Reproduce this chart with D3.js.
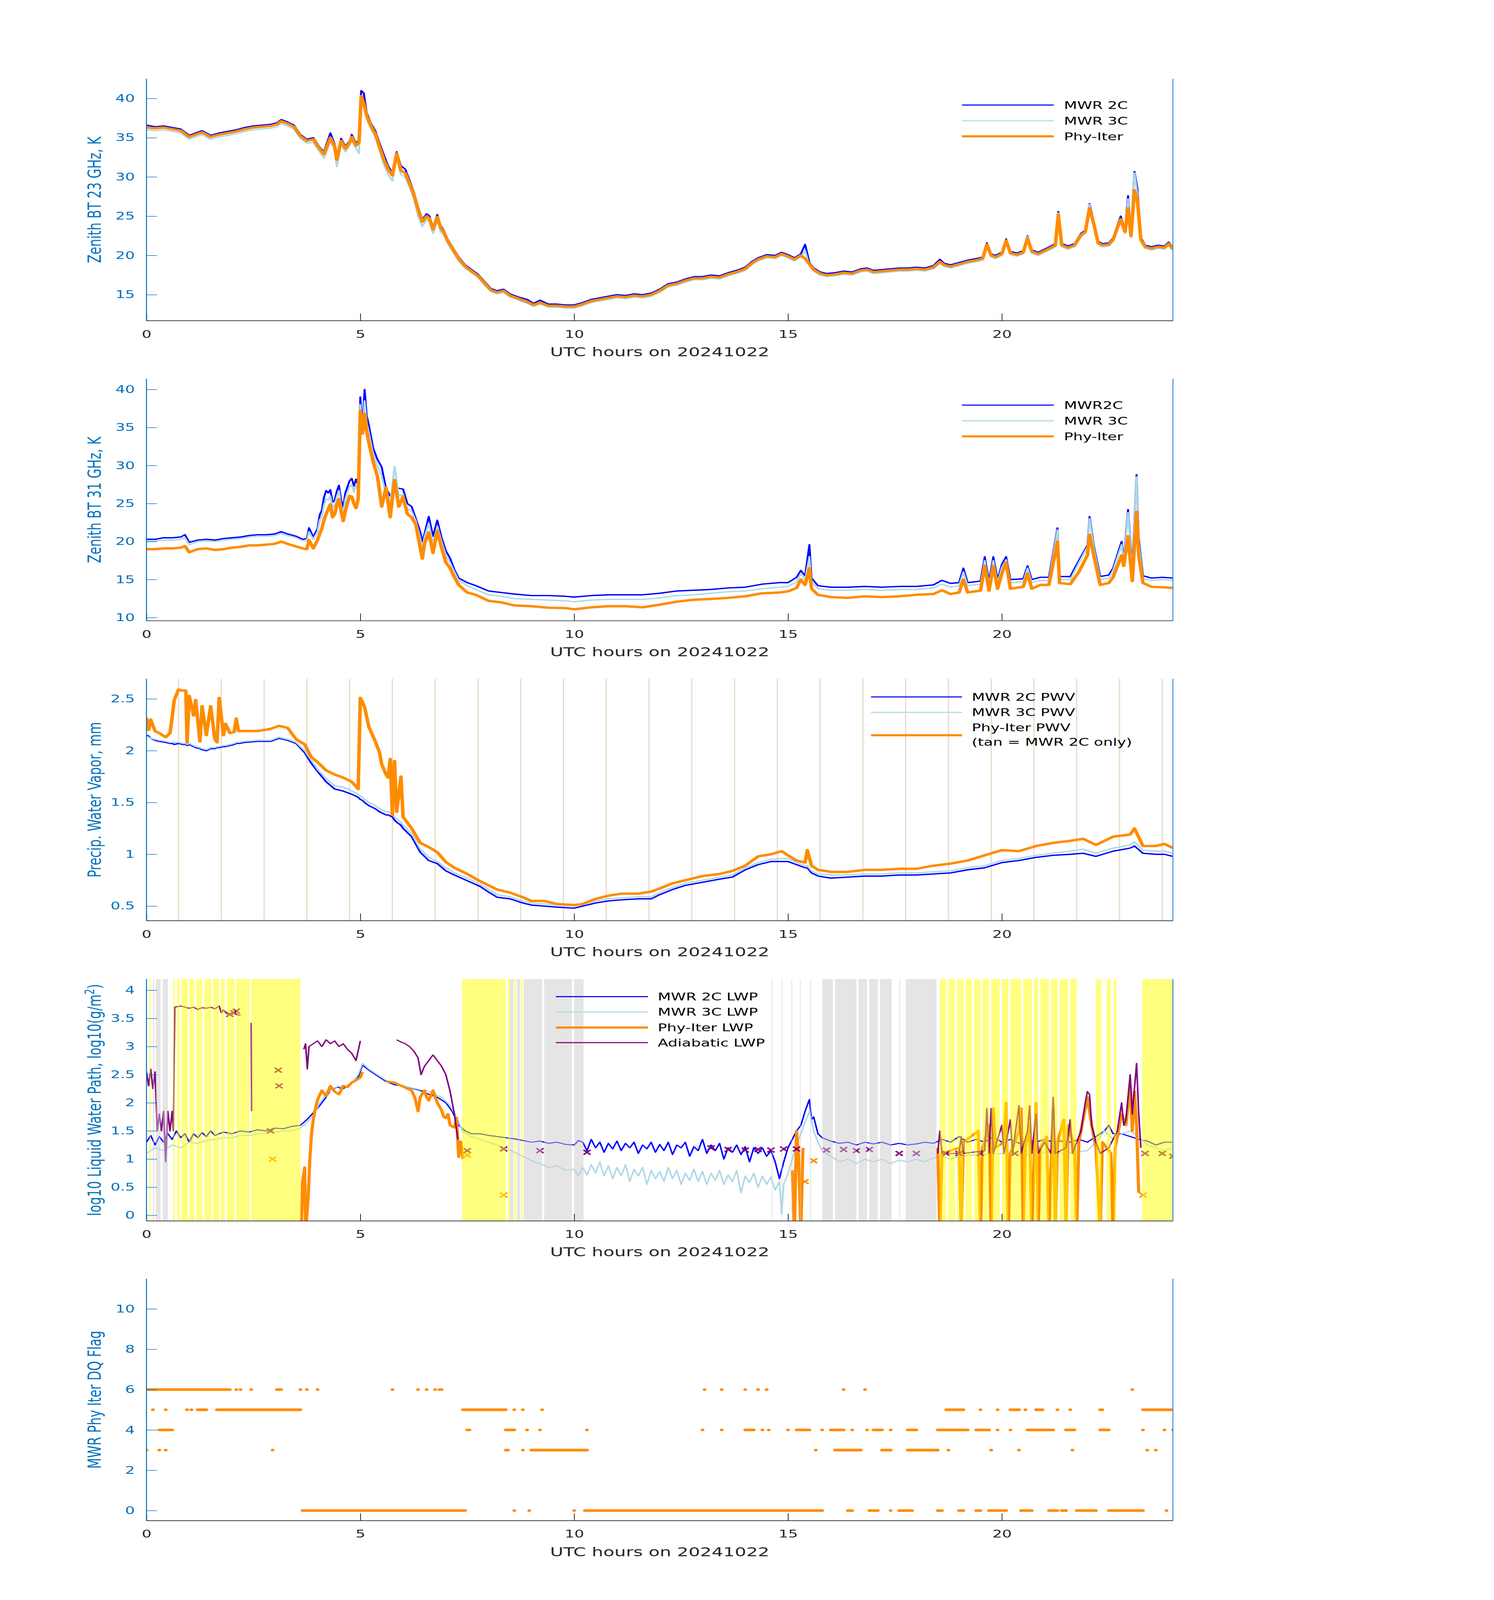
<!DOCTYPE html>
<html><head><meta charset="utf-8">
<script src="https://cdn.jsdelivr.net/npm/d3@7"></script>
<style>html,body{margin:0;padding:0;background:#fff;overflow:hidden}svg{display:block}</style>
</head><body><svg id="chart" width="3825" height="6000"></svg>
<script>
// ---------------- DATA ----------------
// Panel 1: Zenith BT 23 GHz
const hours1 = [0,0.2,0.4,0.6,0.8,1.0,1.15,1.3,1.5,1.7,
1.9,2.1,2.3,2.5,2.7,2.9,3.05,3.15,3.3,3.45,
3.6,3.75,3.9,4.05,4.15,4.3,4.4,4.45,4.55,4.65,
4.75,4.8,4.9,4.97,5.02,5.08,5.15,5.25,5.35,5.45,
5.55,5.65,5.75,5.85,5.95,6.05,6.15,6.25,6.35,6.45,
6.55,6.62,6.7,6.8,6.88,6.95,7.05,7.15,7.3,7.45,
7.6,7.75,7.9,8.05,8.2,8.35,8.5,8.7,8.9,9.05,
9.2,9.4,9.6,9.8,10.0,10.2,10.4,10.6,10.8,11.0,
11.2,11.4,11.6,11.8,12.0,12.2,12.4,12.6,12.8,13.0,
13.2,13.4,13.6,13.8,14.0,14.15,14.3,14.5,14.7,14.85,
15.0,15.15,15.3,15.4,15.5,15.6,15.75,15.9,16.1,16.3,
16.5,16.7,16.85,17.0,17.2,17.4,17.6,17.8,18.0,18.2,
18.4,18.55,18.65,18.8,19.0,19.2,19.4,19.55,19.65,19.75,
19.85,20.0,20.1,20.2,20.35,20.5,20.6,20.7,20.85,21.0,
21.15,21.25,21.32,21.4,21.55,21.7,21.85,21.95,22.05,22.15,
22.25,22.35,22.5,22.6,22.7,22.78,22.88,22.95,23.02,23.1,
23.17,23.25,23.35,23.5,23.65,23.8,23.9,24.0];
const bt23_2C = [36.6,36.4,36.5,36.3,36.1,35.3,35.6,35.9,35.3,35.6,
35.8,36.0,36.3,36.5,36.6,36.7,36.9,37.3,37.0,36.6,
35.4,34.8,35.0,33.8,33.2,35.6,34.2,32.6,34.9,33.9,
34.6,35.4,34.3,34.7,41.0,40.7,38.2,36.8,35.9,34.3,
32.8,31.4,30.5,33.2,31.4,31.0,29.6,28.1,26.2,24.6,
25.3,25.0,23.6,25.2,23.8,23.2,22.0,21.1,19.8,18.8,
18.2,17.6,16.7,15.8,15.5,15.7,15.1,14.7,14.4,13.9,
14.3,13.8,13.8,13.7,13.7,14.0,14.4,14.6,14.8,15.0,
14.9,15.1,15.0,15.2,15.7,16.4,16.6,17.0,17.3,17.3,
17.5,17.4,17.8,18.1,18.5,19.2,19.7,20.1,20.0,20.4,
20.1,19.7,20.2,21.4,19.1,18.4,17.9,17.7,17.8,18.0,
17.9,18.3,18.4,18.1,18.2,18.3,18.4,18.4,18.5,18.4,
18.7,19.5,19.0,18.8,19.1,19.4,19.6,19.8,21.6,20.2,
20.0,20.4,22.1,20.5,20.3,20.6,22.5,20.7,20.4,20.8,
21.2,21.5,25.6,21.5,21.2,21.5,22.8,23.2,26.6,24.3,
21.8,21.5,21.6,22.2,23.8,25.0,23.3,27.6,22.8,30.7,
28.5,22.3,21.3,21.1,21.3,21.2,21.7,21.0];
const bt23_3C = [36.0,35.9,36.0,35.8,35.6,34.8,35.1,35.4,34.8,35.1,
35.3,35.5,35.8,36.0,36.1,36.2,36.4,36.8,36.5,36.1,
34.9,34.3,34.4,33.2,32.4,34.6,33.4,31.3,34.2,33.2,
34.0,34.7,33.6,33.0,39.8,39.0,37.4,36.1,35.1,33.4,
31.6,30.3,29.5,32.5,30.3,30.0,28.7,27.3,25.0,23.7,
24.6,24.2,22.8,24.5,23.0,22.6,21.5,20.6,19.3,18.4,
17.8,17.2,16.3,15.4,15.1,15.3,14.7,14.3,13.9,13.5,
13.8,13.4,13.4,13.3,13.3,13.6,14.0,14.2,14.4,14.6,
14.5,14.7,14.6,14.8,15.3,16.0,16.2,16.6,16.9,16.9,
17.1,17.0,17.4,17.7,18.1,18.8,19.3,19.7,19.6,20.0,
19.7,19.3,19.8,20.6,18.7,18.0,17.5,17.3,17.4,17.6,
17.5,17.9,18.0,17.7,17.8,17.9,18.0,18.0,18.1,18.0,
18.3,19.0,18.6,18.4,18.7,19.0,19.2,19.4,21.3,19.8,
19.6,20.0,21.8,20.1,19.9,20.2,22.4,20.3,20.0,20.4,
20.8,21.1,25.4,21.1,20.8,21.1,22.4,22.8,26.5,23.8,
21.4,21.1,21.2,21.8,23.3,24.5,22.8,27.2,22.3,30.5,
27.8,21.8,20.9,20.7,20.9,20.8,21.3,20.6];
const bt23_phy = [36.3,36.2,36.3,36.1,35.9,35.1,35.4,35.7,35.1,35.4,
35.6,35.8,36.1,36.3,36.4,36.5,36.7,37.1,36.8,36.4,
35.2,34.6,34.8,33.6,32.9,35.0,33.9,32.2,34.6,33.6,
34.4,35.1,34.0,34.4,40.3,39.4,37.8,36.5,35.5,33.8,
32.2,31.0,30.2,33.0,30.8,30.5,29.2,27.8,25.9,24.3,
25.0,24.7,23.3,24.9,23.5,23.0,21.8,20.9,19.6,18.6,
18.0,17.4,16.5,15.6,15.3,15.5,14.9,14.5,14.1,13.7,
14.0,13.6,13.6,13.5,13.5,13.8,14.2,14.4,14.6,14.8,
14.7,14.9,14.8,15.0,15.5,16.2,16.4,16.8,17.1,17.1,
17.3,17.2,17.6,17.9,18.3,19.0,19.5,19.9,19.8,20.2,
19.9,19.5,20.0,19.6,18.9,18.2,17.7,17.5,17.6,17.8,
17.7,18.1,18.2,17.9,18.0,18.1,18.2,18.2,18.3,18.2,
18.5,19.2,18.8,18.6,18.9,19.2,19.4,19.6,21.4,20.0,
19.8,20.2,21.9,20.3,20.1,20.4,22.2,20.5,20.2,20.6,
21.0,21.3,25.2,21.3,21.0,21.3,22.6,23.0,26.0,24.0,
21.6,21.3,21.4,22.0,23.5,24.6,23.0,26.0,22.5,28.3,
27.0,22.0,21.1,20.9,21.1,21.0,21.5,20.8];

// Panel 2: Zenith BT 31 GHz
const hours2 = [0,0.2,0.4,0.6,0.8,0.9,1.0,1.2,1.4,1.6,
1.8,2.0,2.2,2.4,2.6,2.8,3.0,3.15,3.3,3.5,
3.65,3.75,3.8,3.9,4.0,4.05,4.1,4.15,4.2,4.25,
4.3,4.35,4.4,4.45,4.5,4.55,4.6,4.65,4.7,4.75,
4.8,4.85,4.9,4.95,5.0,5.05,5.1,5.15,5.2,5.3,
5.4,5.5,5.6,5.7,5.8,5.9,6.0,6.1,6.2,6.3,
6.4,6.45,6.5,6.6,6.7,6.8,6.9,7.0,7.1,7.2,
7.3,7.5,7.7,8.0,8.3,8.6,9.0,9.4,9.8,10.0,
10.4,10.8,11.2,11.6,12.0,12.4,12.8,13.2,13.6,14.0,
14.4,14.8,15.0,15.2,15.3,15.4,15.5,15.55,15.7,16.0,
16.4,16.8,17.2,17.6,18.0,18.4,18.6,18.8,19.0,19.1,
19.2,19.5,19.6,19.7,19.8,19.9,20.0,20.1,20.2,20.5,
20.6,20.7,20.9,21.1,21.3,21.35,21.6,21.8,22.0,22.05,
22.15,22.3,22.5,22.6,22.8,22.85,22.95,23.05,23.15,23.2,
23.3,23.5,23.75,24.0];
const bt31_2C = [20.3,20.3,20.5,20.5,20.6,20.9,19.9,20.2,20.3,20.2,
20.4,20.5,20.6,20.8,20.9,20.9,21.0,21.3,21.0,20.7,
20.3,20.4,21.8,20.6,21.7,23.5,24.1,25.8,26.7,26.4,
26.8,25.2,25.4,26.6,27.4,25.5,24.5,26.4,27.2,28.0,
28.3,27.3,28.2,27.4,39.0,35.0,40.0,36.5,35.3,32.3,
30.8,29.8,27.0,26.0,26.8,27.0,26.9,25.0,24.6,23.0,
21.3,20.0,21.0,23.3,20.7,22.8,20.5,18.8,17.8,16.3,
15.2,14.6,14.2,13.5,13.3,13.1,12.9,12.9,12.8,12.7,
12.9,13.0,13.0,13.0,13.2,13.5,13.6,13.7,13.9,14.0,
14.4,14.6,14.6,15.3,16.2,15.5,19.6,15.2,14.2,14.0,
14.0,14.1,14.0,14.1,14.1,14.3,14.9,14.5,14.6,16.5,
14.6,14.8,18.0,14.8,18.0,15.0,17.0,18.0,15.0,15.1,
16.8,15.0,15.3,15.3,21.8,15.4,15.4,17.5,19.5,23.3,
19.5,15.4,15.6,16.5,20.0,17.5,24.2,16.5,28.8,20.5,
15.5,15.2,15.3,15.2];
const bt31_3C = [20.1,20.1,20.2,20.2,20.3,20.5,19.6,20.0,20.1,20.0,
20.2,20.3,20.4,20.6,20.7,20.7,20.8,21.0,20.8,20.5,
20.1,20.1,21.3,20.3,21.3,22.8,23.3,24.8,25.6,25.5,
26.0,24.4,24.8,25.9,26.7,24.8,23.8,25.6,26.5,27.2,
27.5,26.5,27.4,26.7,38.0,34.7,38.5,35.6,34.3,31.5,
30.0,28.6,26.2,25.0,29.9,26.0,26.2,24.3,24.0,22.7,
20.5,19.0,20.6,22.4,19.7,22.0,20.0,18.2,17.2,16.0,
14.9,14.2,13.7,13.0,12.8,12.5,12.4,12.3,12.2,12.1,
12.3,12.4,12.4,12.4,12.6,12.9,13.0,13.2,13.4,13.5,
13.8,14.0,14.1,14.7,15.8,15.0,18.0,14.7,13.8,13.6,
13.6,13.7,13.6,13.7,13.7,13.9,14.4,14.0,14.2,16.0,
14.2,14.4,17.5,14.4,17.5,14.6,16.6,17.6,14.6,14.7,
16.5,14.6,14.9,14.9,21.5,15.0,15.0,17.2,19.3,23.0,
19.2,15.0,15.2,16.2,19.6,17.2,23.8,16.0,28.5,20.0,
15.1,14.9,15.0,14.9];
const bt31_phy = [19.0,19.0,19.1,19.1,19.2,19.4,18.6,19.0,19.1,18.9,
19.0,19.2,19.3,19.5,19.5,19.6,19.7,20.0,19.7,19.35,
19.1,19.0,20.2,19.1,20.2,21.0,21.7,22.8,23.6,24.3,
24.9,23.2,23.6,24.8,25.6,24.0,22.7,24.0,25.1,26.0,
25.9,25.0,24.4,25.6,37.2,34.2,36.8,34.5,33.0,30.5,
28.6,24.6,27.1,23.2,28.1,24.6,25.9,23.6,23.2,22.2,
19.2,17.75,19.7,21.2,18.5,21.4,19.2,17.25,16.5,15.3,
14.3,13.3,13.0,12.2,12.0,11.6,11.5,11.3,11.25,11.1,
11.35,11.5,11.5,11.35,11.7,12.1,12.35,12.45,12.6,12.8,
13.2,13.3,13.45,13.9,15.0,14.3,16.5,13.8,13.0,12.7,
12.6,12.8,12.7,12.8,13.0,13.1,13.6,13.1,13.3,15.0,
13.3,13.55,16.8,13.55,16.8,13.8,15.8,17.25,13.8,14.05,
15.8,13.8,14.3,14.3,20.0,14.55,14.4,16.0,18.2,20.9,
18.2,14.3,14.55,15.3,18.2,16.8,20.7,14.8,23.9,18.2,
14.55,14.05,14.0,13.9];

// Panel 3: PWV
const hours3 = [0,0.05,0.1,0.2,0.3,0.45,0.55,0.6,0.65,0.75,
0.85,0.92,0.95,1.0,1.1,1.15,1.25,1.3,1.4,1.5,
1.6,1.65,1.7,1.8,1.85,1.95,2.05,2.1,2.15,2.3,
2.6,2.9,3.1,3.3,3.5,3.7,3.85,4.0,4.2,4.4,
4.6,4.8,4.95,5.0,5.05,5.1,5.2,5.35,5.45,5.5,
5.6,5.65,5.7,5.75,5.8,5.85,5.95,6.0,6.2,6.4,
6.6,6.8,7.0,7.2,7.5,7.8,8.0,8.2,8.5,8.8,
9.0,9.3,9.6,10.0,10.2,10.5,10.8,11.1,11.5,11.8,
12.0,12.3,12.6,13.0,13.4,13.7,14.0,14.3,14.6,14.85,
15.0,15.2,15.4,15.45,15.55,15.7,16.0,16.4,16.8,17.2,
17.6,18.0,18.4,18.8,19.2,19.6,20.0,20.4,20.8,21.2,
21.6,21.9,22.2,22.6,23.0,23.1,23.3,23.6,23.8,24.0];
const pwv_2C = [2.15,2.14,2.12,2.10,2.09,2.08,2.07,2.07,2.06,2.07,
2.06,2.06,2.05,2.06,2.04,2.03,2.02,2.01,2.00,2.02,
2.02,2.03,2.03,2.04,2.04,2.05,2.06,2.07,2.07,2.08,
2.09,2.09,2.12,2.10,2.07,1.98,1.88,1.80,1.70,1.63,
1.61,1.58,1.55,1.53,1.52,1.50,1.47,1.44,1.41,1.40,
1.38,1.38,1.37,1.36,1.33,1.31,1.28,1.25,1.17,1.02,
0.94,0.91,0.84,0.80,0.745,0.69,0.635,0.585,0.57,0.53,
0.51,0.50,0.49,0.48,0.50,0.53,0.55,0.56,0.57,0.57,
0.61,0.66,0.70,0.73,0.76,0.78,0.85,0.90,0.93,0.93,
0.93,0.90,0.87,0.87,0.82,0.79,0.77,0.78,0.79,0.79,
0.80,0.80,0.81,0.82,0.85,0.87,0.92,0.94,0.97,0.99,
1.00,1.01,0.98,1.03,1.06,1.08,1.01,1.00,1.00,0.98];
const pwv_3C = [2.14,2.13,2.12,2.11,2.10,2.09,2.08,2.08,2.08,2.08,
2.07,2.07,2.06,2.07,2.05,2.04,2.03,2.02,2.01,2.03,
2.03,2.04,2.04,2.05,2.05,2.06,2.07,2.08,2.08,2.09,
2.10,2.10,2.13,2.11,2.08,2.00,1.91,1.82,1.73,1.66,
1.65,1.61,1.58,1.56,1.55,1.53,1.50,1.47,1.44,1.43,
1.41,1.41,1.40,1.39,1.36,1.34,1.31,1.28,1.20,1.05,
0.97,0.93,0.87,0.82,0.77,0.71,0.66,0.61,0.59,0.55,
0.53,0.52,0.51,0.50,0.52,0.55,0.57,0.58,0.59,0.59,
0.63,0.68,0.72,0.75,0.78,0.80,0.87,0.92,0.95,0.96,
0.96,0.92,0.89,0.89,0.84,0.81,0.80,0.80,0.81,0.81,
0.82,0.82,0.83,0.84,0.87,0.89,0.94,0.96,0.99,1.01,
1.03,1.05,1.01,1.06,1.09,1.12,1.04,1.03,1.03,1.01];
const pwv_phy = [2.32,2.2,2.3,2.19,2.17,2.13,2.17,2.32,2.49,2.59,
2.58,2.58,2.08,2.53,2.34,2.49,2.09,2.43,2.15,2.43,
2.11,2.08,2.51,2.15,2.26,2.17,2.18,2.31,2.19,2.19,
2.19,2.21,2.24,2.22,2.11,2.06,1.94,1.89,1.81,1.77,
1.74,1.70,1.63,2.51,2.47,2.42,2.23,2.09,1.98,1.87,
1.77,1.74,1.92,1.38,1.90,1.41,1.75,1.36,1.25,1.11,
1.07,1.02,0.925,0.87,0.81,0.74,0.70,0.66,0.63,0.585,
0.55,0.55,0.52,0.51,0.52,0.57,0.60,0.62,0.62,0.64,
0.67,0.72,0.75,0.79,0.81,0.84,0.89,0.98,1.00,1.03,
0.99,0.94,0.92,1.04,0.89,0.85,0.83,0.83,0.85,0.85,
0.86,0.86,0.89,0.91,0.94,0.99,1.04,1.03,1.08,1.11,
1.13,1.15,1.09,1.17,1.19,1.25,1.08,1.08,1.10,1.06];
const tanHours = [0.75,1.75,2.75,3.75,4.75,5.75,6.75,7.75,8.75,9.75,10.75,11.75,
12.75,13.75,14.75,15.75,16.75,17.75,18.75,19.75,20.75,21.75,22.75,23.75];

// Panel 4: log10 LWP
const hoursLwp2C = [0,0.1,0.2,0.3,0.4,0.5,0.6,0.7,0.8,0.9,
1.0,1.1,1.2,1.3,1.4,1.5,1.6,1.8,2.0,2.2,
2.4,2.6,2.8,3.0,3.2,3.4,3.6,3.75,3.9,4.05,
4.2,4.3,4.45,4.6,4.8,4.95,5.05,5.2,5.4,5.6,
5.8,6.0,6.2,6.4,6.6,6.8,7.0,7.15,7.3,7.45,
7.6,7.8,8.0,8.2,8.4,8.6,8.8,9.0,9.2,9.4,
9.6,9.8,10.0,10.1,10.2,10.3,10.4,10.5,10.6,10.7,
10.8,10.9,11.0,11.1,11.2,11.3,11.4,11.5,11.6,11.7,
11.8,11.9,12.0,12.1,12.2,12.3,12.4,12.5,12.6,12.7,
12.8,12.9,13.0,13.1,13.2,13.3,13.4,13.5,13.6,13.7,
13.8,13.9,14.0,14.1,14.2,14.3,14.4,14.5,14.6,14.7,
14.8,14.9,15.0,15.1,15.2,15.3,15.4,15.5,15.55,15.6,
15.7,15.8,16.0,16.2,16.4,16.6,16.8,17.0,17.2,17.4,
17.6,17.8,18.0,18.2,18.4,18.6,18.8,19.0,19.2,19.4,
19.6,19.8,20.0,20.2,20.4,20.6,20.8,21.0,21.2,21.4,
21.6,21.8,22.0,22.2,22.4,22.5,22.6,22.8,23.0,23.2,
23.4,23.6,23.8,24.0];
const lwp_2C = [1.3,1.42,1.25,1.4,1.3,1.45,1.35,1.5,1.38,1.45,
1.3,1.45,1.38,1.47,1.4,1.5,1.42,1.48,1.45,1.5,
1.48,1.52,1.5,1.55,1.54,1.58,1.6,1.7,1.82,1.95,
2.1,2.22,2.28,2.25,2.36,2.45,2.67,2.58,2.48,2.38,
2.32,2.3,2.26,2.22,2.15,2.1,2.0,1.85,1.6,1.5,
1.45,1.45,1.42,1.4,1.38,1.36,1.33,1.3,1.32,1.28,
1.3,1.26,1.25,1.33,1.3,1.15,1.35,1.2,1.3,1.12,
1.28,1.18,1.32,1.15,1.28,1.2,1.3,1.1,1.25,1.18,
1.3,1.12,1.26,1.15,1.3,1.08,1.25,1.2,1.3,1.05,
1.22,1.15,1.35,1.1,1.25,1.15,1.28,1.0,1.2,1.12,
1.25,1.08,1.22,0.95,1.2,1.1,1.2,1.05,1.15,0.95,
0.65,0.95,1.2,1.35,1.5,1.6,1.85,2.06,1.7,1.75,
1.45,1.38,1.32,1.28,1.3,1.25,1.3,1.27,1.3,1.25,
1.28,1.25,1.27,1.3,1.28,1.35,1.3,1.4,1.3,1.35,
1.3,1.4,1.3,1.35,1.28,1.33,1.3,1.35,1.3,1.32,
1.3,1.35,1.3,1.4,1.5,1.6,1.45,1.45,1.4,1.35,
1.32,1.25,1.3,1.3];
const hoursLwp3C = [0,0.2,0.4,0.6,0.8,1.0,1.2,1.4,1.6,1.8,
2.0,2.2,2.4,2.6,2.8,3.0,3.2,3.4,3.6,3.75,
3.9,4.05,4.2,4.35,4.5,4.65,4.8,4.95,5.05,5.2,
5.4,5.6,5.8,6.0,6.3,6.6,6.9,7.1,7.25,7.4,
7.6,7.8,8.0,8.2,8.4,8.6,8.8,9.0,9.2,9.4,
9.6,9.8,10.0,10.1,10.2,10.3,10.4,10.5,10.6,10.7,
10.8,10.9,11.0,11.1,11.2,11.3,11.4,11.5,11.6,11.7,
11.8,11.9,12.0,12.1,12.2,12.3,12.4,12.5,12.6,12.7,
12.8,12.9,13.0,13.1,13.2,13.3,13.4,13.5,13.6,13.7,
13.8,13.9,14.0,14.1,14.2,14.3,14.4,14.5,14.6,14.7,
14.8,14.85,14.9,15.0,15.1,15.2,15.3,15.4,15.5,15.6,
15.7,15.8,16.0,16.2,16.4,16.6,16.8,17.0,17.2,17.4,
17.6,17.8,18.0,18.2,18.4,18.6,18.8,19.0,19.5,20.0,
20.5,21.0,21.5,22.0,22.2,22.4,22.6,22.8,23.0,23.2,
23.4,23.6,23.8,24.0];
const lwp_3C = [1.1,1.2,1.15,1.25,1.2,1.3,1.28,1.33,1.35,1.38,
1.38,1.42,1.42,1.45,1.46,1.48,1.5,1.5,1.55,1.65,
1.78,2.0,2.15,2.25,2.3,2.28,2.35,2.5,2.7,2.6,
2.5,2.4,2.35,2.3,2.25,2.2,2.1,1.95,1.75,1.48,
1.4,1.35,1.3,1.25,1.2,1.12,1.05,0.97,0.92,0.85,
0.88,0.8,0.82,0.7,0.85,0.72,0.9,0.75,0.95,0.7,
0.88,0.65,0.85,0.7,0.9,0.6,0.82,0.7,0.85,0.55,
0.8,0.65,0.78,0.6,0.85,0.65,0.8,0.55,0.75,0.62,
0.82,0.6,0.78,0.55,0.75,0.62,0.8,0.55,0.72,0.6,
0.8,0.4,0.7,0.58,0.75,0.5,0.7,0.55,0.68,0.45,
0.6,0.02,0.55,0.75,1.0,1.25,1.45,1.65,1.85,1.5,
1.3,1.15,1.05,0.95,1.0,0.92,1.0,0.95,1.0,0.92,
0.98,0.95,1.0,0.95,1.02,1.05,1.0,1.05,1.08,1.1,
1.08,1.12,1.1,1.15,1.3,1.5,1.35,1.45,1.5,1.4,
1.25,1.2,1.15,1.2];
const hoursLwpPhy = [3.62,3.65,3.7,3.72,3.78,3.82,3.86,3.9,3.95,4.0,
4.1,4.2,4.3,4.4,4.5,4.6,4.7,4.8,4.9,5.0,
5.05,5.07,5.6,5.7,5.8,5.9,6.0,6.1,6.2,6.28,
6.35,6.4,6.5,6.55,6.6,6.7,6.8,6.9,6.95,7.0,
7.05,7.1,7.2,7.25,7.3,7.35,7.4,7.42,15.1,15.15,
15.2,15.25,15.3,15.35,15.4,18.5,18.55,18.6,19.0,19.05,
19.1,19.45,19.5,19.55,19.7,19.75,19.8,19.85,20.05,20.1,
20.15,20.2,20.4,20.45,20.5,20.55,20.65,20.7,20.8,20.85,
20.9,21.05,21.1,21.2,21.25,21.3,21.45,21.5,21.55,21.7,
21.75,21.8,22.0,22.1,22.2,22.3,22.35,22.55,22.6,22.65,
22.8,22.9,23.0,23.05,23.1,23.15,23.2];
const lwp_phy = [-0.3,0.6,0.85,-0.3,0.3,1.0,1.45,1.7,1.9,2.05,
2.22,2.12,2.3,2.2,2.15,2.3,2.28,2.36,2.4,2.45,
2.55,null,2.38,2.37,2.36,2.32,2.29,2.25,2.22,2.08,
1.85,2.1,2.22,2.1,2.04,2.22,2.0,1.87,1.75,1.73,
1.8,1.6,1.56,1.73,1.04,1.31,1.0,null,0.8,-0.3,
1.5,1.0,-0.3,1.2,null,1.2,-0.3,1.1,1.2,-0.3,
1.3,1.5,-0.3,1.2,1.6,-0.3,1.9,1.2,1.3,2.0,
-0.3,1.1,1.5,1.9,-0.3,1.2,1.6,-0.3,2.0,-0.3,
1.2,1.4,-0.3,1.9,-0.3,1.3,1.7,-0.3,1.6,1.2,
-0.3,1.3,2.1,1.6,1.2,-0.3,1.3,1.1,-0.3,1.2,
1.8,1.6,2.3,1.5,2.2,1.6,0.4];
const hoursLwpAdi = [0.0,0.05,0.1,0.15,0.2,0.25,0.3,0.35,0.4,0.45,
0.5,0.55,0.6,0.63,0.66,0.8,0.9,1.0,1.1,1.2,
1.3,1.4,1.5,1.6,1.7,1.75,1.8,1.9,2.0,2.1,
2.2,2.22,2.45,2.46,2.47,3.68,3.72,3.76,3.8,3.9,
4.0,4.1,4.2,4.3,4.4,4.5,4.6,4.7,4.8,4.9,
5.0,5.02,5.85,5.95,6.05,6.15,6.25,6.35,6.42,6.5,
6.6,6.7,6.8,6.9,7.0,7.1,7.2,7.28,7.3,18.5,
18.55,18.6,19.0,19.05,19.1,19.6,19.65,19.7,19.75,19.8,
20.0,20.05,20.2,20.25,20.4,20.45,20.6,20.65,20.7,20.8,
20.85,21.0,21.15,21.2,21.25,21.5,21.6,21.65,21.85,21.95,
22.0,22.05,22.1,22.2,22.3,22.5,22.7,22.8,22.85,22.9,
23.0,23.05,23.15,23.2,23.25];
const lwp_adi = [2.55,2.3,2.6,2.25,2.55,1.5,1.8,1.5,1.85,0.95,
1.85,1.5,1.85,1.5,3.7,3.72,3.7,3.68,3.7,3.66,
3.69,3.68,3.7,3.67,3.72,3.6,3.65,3.57,3.6,3.58,
3.55,null,3.42,1.85,null,2.95,3.05,2.6,3.0,3.05,
3.1,3.0,3.12,3.05,3.1,3.0,3.05,2.95,2.88,2.75,
3.1,null,3.12,3.08,3.05,3.0,2.92,2.8,2.5,2.65,
2.75,2.85,2.75,2.65,2.5,2.2,1.8,1.35,null,1.1,
1.5,1.1,1.1,1.4,1.1,1.15,1.9,1.1,1.9,1.1,
1.6,1.1,1.7,1.1,1.95,1.1,1.5,1.95,1.1,1.8,
1.1,1.3,1.1,2.1,1.1,1.2,1.7,1.1,1.5,2.0,
2.2,2.15,1.6,1.3,1.1,1.2,1.5,2.0,1.6,1.7,
2.5,1.8,2.7,1.8,1.2];
const adiMarkHours = [1.95,2.05,2.1,2.9,3.08,3.1,7.5,8.35,9.2,10.3,
13.2,13.6,14.0,14.3,14.6,14.9,15.2,15.9,16.3,16.6,
16.9,17.6,18.0,18.7,19.0,19.5,20.3,23.35,23.75,24.0];
const adiMarkVals = [3.57,3.6,3.63,1.5,2.58,2.3,1.15,1.18,1.15,1.12,
1.2,1.17,1.16,1.17,1.16,1.18,1.18,1.16,1.17,1.15,
1.17,1.1,1.1,1.1,1.1,1.1,1.1,1.1,1.1,1.05];
const phyMarkHours = [2.95,7.5,8.35,15.4,15.6,23.3];
const phyMarkVals = [1.0,1.07,0.36,0.6,0.97,0.36];
const yellowBands = [[0.07,0.1],[0.62,0.66],[0.72,0.78],[0.82,0.96],[1.0,1.12],[1.17,1.31],[1.36,1.52],
[1.56,1.7],[1.74,1.83],[1.88,2.06],[2.1,2.41],[2.45,3.6],
[7.38,8.4],[8.45,8.5],[8.6,8.64],[8.76,8.8],
[18.55,18.7],[18.75,18.9],[18.95,19.1],[19.15,19.3],[19.35,19.5],[19.55,19.7],[19.75,19.95],
[20.0,20.15],[20.2,20.45],[20.5,20.7],[20.75,20.85],[20.9,21.1],[21.15,21.3],[21.35,21.55],[21.6,21.75],
[22.2,22.33],[22.45,22.55],[22.62,22.68],[23.28,24]];
const greyBands = [[0.15,0.18],[0.22,0.33],[0.38,0.5],[8.5,8.58],[8.66,8.74],[8.82,9.25],[9.3,9.95],
[10.0,10.22],[14.62,14.64],[14.85,14.87],[15.08,15.1],[15.28,15.3],[15.52,15.54],[15.8,16.05],
[16.1,16.6],[16.65,16.85],[16.9,17.1],[17.15,17.42],[17.6,17.62],[17.75,18.47]];

// Panel 5: DQ flag
const flagLevels = [6,5,4,3,0];
const flagRuns = [
  [[0,1.95],[3.05,3.15]],
  [[1.2,1.4],[1.65,3.6],[7.4,8.4],[18.7,19.1],[20.2,20.4],[20.8,20.95],[22.3,22.35],[23.3,24]],
  [[0.3,0.6],[8.4,8.6],[14.0,14.2],[15.2,15.5],[16.0,16.3],[17.0,17.2],[17.8,18.0],[18.5,19.2],[19.4,19.7],[20.6,21.2],[21.5,21.7],[22.3,22.5]],
  [[8.4,8.45],[9.0,10.3],[16.1,16.7],[17.2,17.4],[17.8,18.5]],
  [[3.65,7.45],[10.25,15.8],[16.4,16.5],[16.9,17.1],[17.6,17.9],[18.5,18.6],[19.0,19.1],[19.4,19.5],[19.7,20.1],[20.45,20.7],[21.1,21.3],[21.4,21.5],[21.75,22.2],[22.5,23.3]]
];
const flagDots = [
  [2.1,2.2,2.45,3.6,3.75,4.0,5.75,6.35,6.55,6.75,6.85,6.9,13.05,13.45,14.0,14.3,14.5,16.3,16.8,23.05],
  [0.15,0.45,0.95,1.05,8.6,8.8,9.25,19.5,19.9,20.55,21.3,21.6],
  [7.5,7.55,8.9,9.2,10.3,13.0,13.45,14.4,14.55,15.0,15.8,16.5,16.85,17.4,19.9,20.2,23.3,23.8,24.0],
  [0.0,0.3,0.45,2.95,8.8,15.65,18.75,19.75,20.4,21.65,23.4,23.6],
  [8.6,8.95,10.0,17.4,23.85]
];

const xTickValues = [0,5,10,15,20];
const xLabel = "UTC hours on 20241022";

// ---------------- DRAWING ----------------
const FONT = "'DejaVu Sans', sans-serif";
const AXBLUE = '#0072BD', DARK = '#262626';
const C2 = '#0000FF', C3 = '#ADD8E6', CPHY = '#FF8C00', CADI = '#800080';
const svg = d3.select('#chart');
// the 3825x6000 drawing is fitted to the real viewport so nothing falls outside the photo
const vw = window.innerWidth || 3825, vh = window.innerHeight || 6000;
svg.attr('width', vw).attr('height', vh).attr('viewBox', '0 0 3825 6000').attr('preserveAspectRatio', 'none');
svg.append('rect').attr('width',3825).attr('height',6000).attr('fill','#fff');
const X0 = 375, X1 = 3003;
const x = d3.scaleLinear().domain([0,24]).range([X0,X1]);
const panelTops = [295.6,1420.7,2545.5,3671.3,4795.2];
const PH = 907.3;

function makePanel(i, yDomain) {
  const top = panelTops[i], bottom = top + PH;
  const y = d3.scaleLinear().domain(yDomain).range([bottom, top]);
  const g = svg.append('g');
  const clipId = 'clip' + i;
  svg.append('clipPath').attr('id', clipId).append('rect')
    .attr('x', X0).attr('y', top).attr('width', X1 - X0).attr('height', PH);
  const plot = g.append('g').attr('clip-path', `url(#${clipId})`);
  return {g, plot, y, top, bottom};
}

function drawLine(p, hrs, vals, color, width) {
  const data = d3.zip(hrs, vals);
  const line = d3.line().defined(d => d[1] !== null && d[1] !== undefined)
    .x(d => x(d[0])).y(d => p.y(d[1]));
  p.plot.append('path').datum(data).attr('d', line)
    .attr('fill','none').attr('stroke', color).attr('stroke-width', width)
    .attr('stroke-linejoin','round');
}

function drawAxes(p, yTicks, label) {
  const ya = p.g.append('g').attr('transform', `translate(${X0},0)`)
    .call(d3.axisLeft(p.y).tickValues(yTicks).tickFormat(d => String(d))
      .tickSize(-27).tickSizeOuter(0).tickPadding(30));
  ya.select('.domain').remove();
  ya.selectAll('line').attr('stroke', AXBLUE).attr('stroke-width', 2);
  ya.selectAll('text').attr('fill', AXBLUE).attr('font-family', FONT).attr('font-size', 39);
  const xa = p.g.append('g').attr('transform', `translate(0,${p.bottom})`)
    .call(d3.axisBottom(x).tickValues(xTickValues).tickFormat(d => String(d))
      .tickSize(-27).tickSizeOuter(0).tickPadding(36));
  xa.select('.domain').remove();
  xa.selectAll('line').attr('stroke', DARK).attr('stroke-width', 2);
  xa.selectAll('text').attr('fill', DARK).attr('font-family', FONT).attr('font-size', 39);
  p.g.append('line').attr('x1', X0).attr('x2', X0).attr('y1', p.top).attr('y2', p.bottom)
    .attr('stroke', AXBLUE).attr('stroke-width', 2.5);
  p.g.append('line').attr('x1', X1).attr('x2', X1).attr('y1', p.top).attr('y2', p.bottom)
    .attr('stroke', '#3d8fd1').attr('stroke-width', 2.5);
  p.g.append('line').attr('x1', X0).attr('x2', X1).attr('y1', p.bottom).attr('y2', p.bottom)
    .attr('stroke', DARK).attr('stroke-width', 2.5);
  p.g.append('text').attr('x', (X0 + X1) / 2).attr('y', p.bottom + 133)
    .attr('text-anchor','middle').attr('font-family', FONT).attr('font-size', 46.5)
    .attr('fill', DARK).text(xLabel);
  const yl = p.g.append('text')
    .attr('transform', `translate(258,${(p.top + p.bottom) / 2}) rotate(-90)`)
    .attr('text-anchor','middle').attr('font-family', FONT).attr('font-size', 47)
    .attr('fill', AXBLUE);
  if (Array.isArray(label)) {
    yl.append('tspan').text(label[0]);
    yl.append('tspan').attr('dy', -17).attr('font-size', 33).text(label[1]);
    yl.append('tspan').attr('dy', 17).text(label[2]);
  } else yl.text(label);
}

function drawLegend(p, entries, lx0, lx1, tx, offs) {
  const lg = p.g.append('g');
  entries.forEach((e, k) => {
    const yy = p.top + offs[k];
    lg.append('line').attr('x1', lx0).attr('x2', lx1).attr('y1', yy).attr('y2', yy)
      .attr('stroke', e.color).attr('stroke-width', e.width);
    const lines = Array.isArray(e.label) ? e.label : [e.label];
    const base = lines.length === 1 ? [14] : [-15.5, 39.5];
    lines.forEach((t, j) => {
      lg.append('text').attr('x', tx).attr('y', yy + base[j])
        .attr('font-family', FONT).attr('font-size', 39).attr('fill', '#000').text(t);
    });
  });
}

// Panel 1
{
  const p = makePanel(0, [11.68, 42.5]);
  drawLine(p, hours1, bt23_2C, C2, 5);
  drawLine(p, hours1, bt23_3C, C3, 5);
  drawLine(p, hours1, bt23_phy, CPHY, 9);
  drawAxes(p, [15,20,25,30,35,40], "Zenith BT 23 GHz, K");
  drawLegend(p, [{label:"MWR 2C",color:C2,width:4},{label:"MWR 3C",color:C3,width:4},{label:"Phy-Iter",color:CPHY,width:8}],
    2463, 2698, 2724, [98.4, 157.4, 215.7]);
}
// Panel 2
{
  const p = makePanel(1, [9.58, 41.4]);
  drawLine(p, hours2, bt31_2C, C2, 5);
  drawLine(p, hours2, bt31_3C, C3, 5);
  drawLine(p, hours2, bt31_phy, CPHY, 9);
  drawAxes(p, [10,15,20,25,30,35,40], "Zenith BT 31 GHz, K");
  drawLegend(p, [{label:"MWR2C",color:C2,width:4},{label:"MWR 3C",color:C3,width:4},{label:"Phy-Iter",color:CPHY,width:8}],
    2463, 2698, 2724, [98.4, 157.4, 215.7]);
}
// Panel 3
{
  const p = makePanel(2, [0.3585, 2.694]);
  p.plot.selectAll('line.tan').data(tanHours).join('line').attr('class','tan')
    .attr('x1', d => x(d)).attr('x2', d => x(d)).attr('y1', p.top).attr('y2', p.bottom)
    .attr('stroke', '#D2B48C').attr('stroke-opacity', 0.5).attr('stroke-width', 3);
  drawLine(p, hours3, pwv_2C, C2, 5);
  drawLine(p, hours3, pwv_3C, C3, 5);
  drawLine(p, hours3, pwv_phy, CPHY, 9);
  drawAxes(p, [0.5,1,1.5,2,2.5], "Precip. Water Vapor, mm");
  drawLegend(p, [{label:"MWR 2C PWV",color:C2,width:4},{label:"MWR 3C PWV",color:C3,width:4},
    {label:["Phy-Iter PWV","(tan = MWR 2C only)"],color:CPHY,width:8}],
    2230, 2463, 2488, [67.8, 125.8, 211.8]);
}
// Panel 4
{
  const p = makePanel(3, [-0.1, 4.2]);
  drawLine(p, hoursLwp2C, lwp_2C, C2, 4);
  drawLine(p, hoursLwp3C, lwp_3C, C3, 4);
  drawLine(p, hoursLwpPhy, lwp_phy, CPHY, 8);
  drawLine(p, hoursLwpAdi, lwp_adi, CADI, 4);
  const cross = (sel, hrs, vals, color) => {
    const pts = d3.zip(hrs, vals);
    sel.selectAll(null).data(pts).join('path')
      .attr('d', d => { const cx = x(d[0]), cy = p.y(d[1]), s = 9;
        return `M${cx-s},${cy-s}L${cx+s},${cy+s}M${cx-s},${cy+s}L${cx+s},${cy-s}`; })
      .attr('stroke', color).attr('stroke-width', 5).attr('fill','none');
  };
  cross(p.plot, adiMarkHours, adiMarkVals, CADI);
  cross(p.plot, phyMarkHours, phyMarkVals, CPHY);
  p.plot.selectAll('rect.yb').data(yellowBands).join('rect').attr('class','yb')
    .attr('x', d => x(d[0])).attr('width', d => Math.max(2, x(d[1]) - x(d[0])))
    .attr('y', p.top).attr('height', PH).attr('fill', '#FFFF00').attr('fill-opacity', 0.5);
  p.plot.selectAll('rect.gb').data(greyBands).join('rect').attr('class','gb')
    .attr('x', d => x(d[0])).attr('width', d => Math.max(2, x(d[1]) - x(d[0])))
    .attr('y', p.top).attr('height', PH).attr('fill', '#CCCCCC').attr('fill-opacity', 0.5);
  drawAxes(p, [0,0.5,1,1.5,2,2.5,3,3.5,4], ["log10 Liquid Water Path, log10(g/m", "2", ")"]);
  drawLegend(p, [{label:"MWR 2C LWP",color:C2,width:4},{label:"MWR 3C LWP",color:C3,width:4},
    {label:"Phy-Iter LWP",color:CPHY,width:8},{label:"Adiabatic LWP",color:CADI,width:4}],
    1423, 1659, 1684, [66, 124, 182, 238.7]);
}
// Panel 5
{
  const p = makePanel(4, [-0.5, 11.5]);
  flagLevels.forEach((lvl, k) => {
    p.plot.selectAll(null).data(flagRuns[k]).join('line')
      .attr('x1', d => x(d[0])).attr('x2', d => x(d[1]))
      .attr('y1', p.y(lvl)).attr('y2', p.y(lvl))
      .attr('stroke', CPHY).attr('stroke-width', 10).attr('stroke-linecap','round');
    p.plot.selectAll(null).data(flagDots[k]).join('circle')
      .attr('cx', d => x(d)).attr('cy', p.y(lvl)).attr('r', 5).attr('fill', CPHY);
  });
  drawAxes(p, [0,2,4,6,8,10], "MWR Phy Iter DQ Flag");
}
</script></body></html>
